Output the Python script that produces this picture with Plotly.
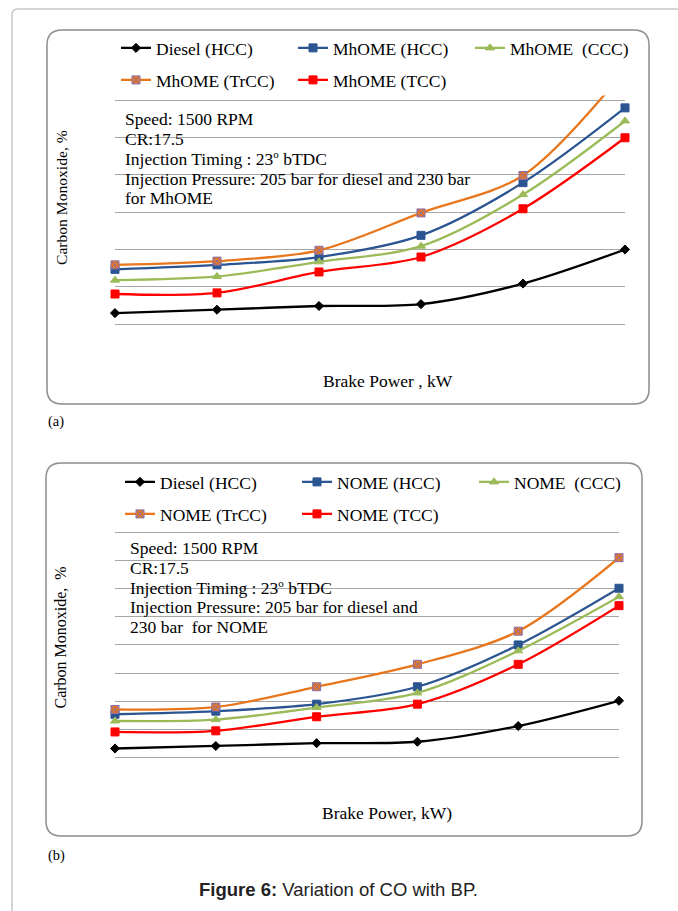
import plotly.graph_objects as go

W, H = 678, 911

# ---------------- data ----------------
load_points = ["0", "20", "40", "60", "80", "100"]  # hidden category axis

# Panel (a): MhOME
diesel_hcc_a = [0.030, 0.039, 0.049, 0.054, 0.109, 0.200]
mhome_hcc_a = [0.147, 0.159, 0.180, 0.238, 0.379, 0.579]
mhome_ccc_a = [0.118, 0.128, 0.167, 0.209, 0.347, 0.544]
mhome_trcc_a = [0.159, 0.169, 0.198, 0.298, 0.398, 0.680]
mhome_tcc_a = [0.081, 0.084, 0.140, 0.180, 0.309, 0.499]

# Panel (b): NOME
diesel_hcc_b = [0.031, 0.040, 0.050, 0.055, 0.111, 0.201]
nome_hcc_b = [0.153, 0.164, 0.189, 0.251, 0.400, 0.602]
nome_ccc_b = [0.129, 0.134, 0.177, 0.229, 0.379, 0.572]
nome_trcc_b = [0.170, 0.179, 0.251, 0.331, 0.449, 0.711]
nome_tcc_b = [0.090, 0.094, 0.144, 0.189, 0.331, 0.540]

y_max_a = 0.6
y_max_b = 0.8
y_step = 0.1

names_a = ["Diesel (HCC)", "MhOME (HCC)", "MhOME&nbsp; (CCC)", "MhOME (TrCC)", "MhOME (TCC)"]
names_b = ["Diesel (HCC)", "NOME (HCC)", "NOME&nbsp; (CCC)", "NOME (TrCC)", "NOME (TCC)"]

DEG = "<sup><span style='font-size:11px'>o</span></sup>"
conditions_a = ["Speed: 1500 RPM", "CR:17.5", f"Injection Timing : 23{DEG} bTDC",
                "Injection Pressure: 205 bar for diesel and 230 bar", "for MhOME"]
conditions_b = ["Speed: 1500 RPM", "CR:17.5", f"Injection Timing : 23{DEG}&nbsp;bTDC",
                "Injection Pressure: 205 bar for diesel and", "230 bar&nbsp; for NOME"]

series_a = [diesel_hcc_a, mhome_hcc_a, mhome_ccc_a, mhome_trcc_a, mhome_tcc_a]
series_b = [diesel_hcc_b, nome_hcc_b, nome_ccc_b, nome_trcc_b, nome_tcc_b]

# ---------------- styles ----------------
SERIF = "Liberation Serif"
SANS = "Liberation Sans"
styles = [
    dict(color="#000000", symbol="diamond", size=7, mline="#000000"),
    dict(color="#2B5591", symbol="square", size=8, mline="#2B5591"),
    dict(color="#9BBB59", symbol="triangle-up", size=8, mline="#9BBB59"),
    dict(color="#E8761C", symbol="square-x", size=8, mline="#8A6FAE"),
    dict(color="#FF0000", symbol="square", size=8, mline="#FF0000"),
]
legend_rows_a = ["legend", "legend", "legend", "legend2", "legend2"]
legend_rows_b = ["legend3", "legend3", "legend3", "legend4", "legend4"]


def px(x):
    return x / W


def py(y):
    return 1 - y / H


def y_domain(bottom_px, top_px, vmax, pad):
    k = (bottom_px - top_px) / vmax
    return [py(bottom_px + pad * k), py(top_px - pad * k)], [-pad, vmax + pad]


PAD = 0.012
dom_a, rng_a = y_domain(324.3, 100.0, y_max_a, PAD)
dom_b, rng_b = y_domain(757.2, 532.7, y_max_b, PAD)

fig = go.Figure()

for vals, name, st, lg in zip(series_a, names_a, styles, legend_rows_a):
    fig.add_trace(go.Scatter(
        x=load_points, y=vals, name=name, mode="lines+markers",
        line=dict(color=st["color"], width=2.3, shape="spline", smoothing=0.9),
        marker=dict(symbol=st["symbol"], size=st["size"], color=st["color"],
                    line=dict(color=st["mline"], width=1)),
        cliponaxis=False, legend=lg, xaxis="x", yaxis="y"))

for vals, name, st, lg in zip(series_b, names_b, styles, legend_rows_b):
    fig.add_trace(go.Scatter(
        x=load_points, y=vals, name=name, mode="lines+markers",
        line=dict(color=st["color"], width=2.3, shape="spline", smoothing=0.9),
        marker=dict(symbol=st["symbol"], size=st["size"], color=st["color"],
                    line=dict(color=st["mline"], width=1)),
        cliponaxis=False, legend=lg, xaxis="x2", yaxis="y2"))

GRID = "#A6A6A6"
xcommon = dict(type="category", range=[0, 5], showgrid=False, showticklabels=False,
               zeroline=False, showline=False, ticks="")
ycommon = dict(tick0=0, dtick=y_step, showgrid=True, gridcolor=GRID, gridwidth=1,
               showticklabels=False, zeroline=False, showline=False, ticks="")

fig.update_layout(
    width=W, height=H, autosize=False,
    margin=dict(l=0, r=0, t=0, b=0),
    paper_bgcolor="white", plot_bgcolor="rgba(0,0,0,0)",
    xaxis=dict(domain=[px(115), px(625)], anchor="y", **xcommon),
    yaxis=dict(domain=dom_a, anchor="x", range=rng_a, **ycommon),
    xaxis2=dict(domain=[px(115), px(619)], anchor="y2", **xcommon),
    yaxis2=dict(domain=dom_b, anchor="x2", range=rng_b, **ycommon),
)

leg_common = dict(orientation="h", xanchor="left", yanchor="middle", bgcolor="rgba(0,0,0,0)",
                  font=dict(family=SERIF, size=17.5, color="#000"), entrywidth=132,
                  entrywidthmode="pixels", traceorder="normal", itemwidth=30)
fig.update_layout(
    legend=dict(x=px(116), y=py(48), **leg_common),
    legend2=dict(x=px(116), y=py(80), **leg_common),
    legend3=dict(x=px(120), y=py(482), **leg_common),
    legend4=dict(x=px(120), y=py(514), **leg_common),
)


def rrect(x0, y0, x1, y1, r):
    pts = [
        f"M{px(x0 + r)},{py(y0)}", f"L{px(x1 - r)},{py(y0)}",
        f"Q{px(x1)},{py(y0)} {px(x1)},{py(y0 + r)}", f"L{px(x1)},{py(y1 - r)}",
        f"Q{px(x1)},{py(y1)} {px(x1 - r)},{py(y1)}", f"L{px(x0 + r)},{py(y1)}",
        f"Q{px(x0)},{py(y1)} {px(x0)},{py(y1 - r)}", f"L{px(x0)},{py(y0 + r)}",
        f"Q{px(x0)},{py(y0)} {px(x0 + r)},{py(y0)}", "Z",
    ]
    return " ".join(pts)


outer = " ".join([f"M{px(12)},{py(920)}", f"L{px(12)},{py(15)}",
                  f"Q{px(12)},{py(9)} {px(18)},{py(9)}", f"L{px(690)},{py(9)}"])

fig.update_layout(shapes=[
    dict(type="path", xref="paper", yref="paper", path=outer,
         line=dict(color="#C6C6C6", width=1.5), layer="below"),
    dict(type="path", xref="paper", yref="paper", path=rrect(47, 30, 649, 404, 15),
         line=dict(color="#8C8C8C", width=1.5), layer="below"),
    dict(type="path", xref="paper", yref="paper", path=rrect(46, 463, 642, 836, 15),
         line=dict(color="#8C8C8C", width=1.5), layer="below"),
])

ann = []
for i, t in enumerate(conditions_a):
    ann.append(dict(text=t, x=px(123), y=py(119.3 + i * 19.75), xref="paper", yref="paper",
                    xanchor="left", yanchor="middle", showarrow=False,
                    font=dict(family=SERIF, size=17.5, color="#000")))
for i, t in enumerate(conditions_b):
    ann.append(dict(text=t, x=px(128), y=py(548.3 + i * 19.6), xref="paper", yref="paper",
                    xanchor="left", yanchor="middle", showarrow=False,
                    font=dict(family=SERIF, size=17.5, color="#000")))

ann += [
    dict(text="Carbon Monoxide, %", x=px(61.5), y=py(197.5), textangle=-90,
         font=dict(family=SERIF, size=15.6, color="#000")),
    dict(text="Carbon Monoxide,&nbsp; %", x=px(60), y=py(637.5), textangle=-90,
         font=dict(family=SERIF, size=16, color="#000")),
    dict(text="Brake Power , kW", x=px(388.5), y=py(381),
         font=dict(family=SERIF, size=17.5, color="#000")),
    dict(text="Brake Power, kW)", x=px(387), y=py(813),
         font=dict(family=SERIF, size=17.5, color="#000")),
    dict(text="(a)", x=px(46), y=py(421), xanchor="left",
         font=dict(family=SERIF, size=14.5, color="#000")),
    dict(text="(b)", x=px(46), y=py(855), xanchor="left",
         font=dict(family=SERIF, size=14.5, color="#000")),
    dict(text="<b>Figure 6:</b> Variation of CO with BP.", x=px(338.5), y=py(889),
         font=dict(family=SANS, size=18.5, color="#222")),
]
for a in ann[len(conditions_a) + len(conditions_b):]:
    a.update(xref="paper", yref="paper", showarrow=False)
    a.setdefault("xanchor", "center")
    a.setdefault("yanchor", "middle")

fig.update_layout(annotations=ann)

fig.write_html("out.html", config={"displayModeBar": False},
               post_script="document.body.style.margin='0';document.body.style.overflow='hidden';")
